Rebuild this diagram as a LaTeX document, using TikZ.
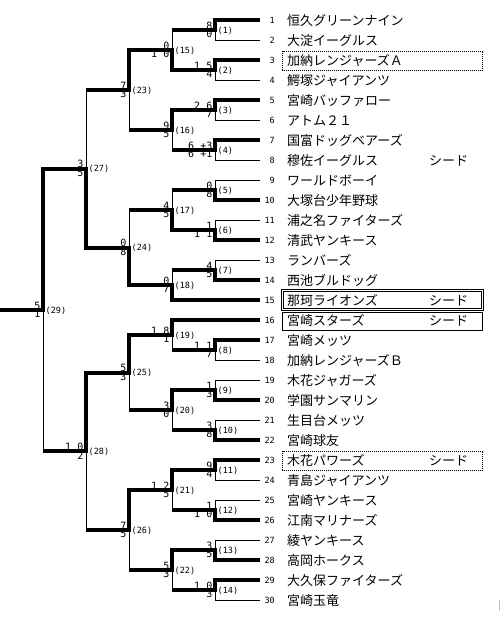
\documentclass[tikz,border=0pt]{standalone}
\usepackage{fontspec}
\newfontfamily\jpfont{Noto Sans CJK JP}
\newfontfamily\scfont{DejaVu Sans Mono}
\newcommand\fw[2]{\draw[win] (#1) -- (#1 -| #2) -- (#2);}
\newcommand\fl[2]{\draw[lose] (#1) -- (#1 -| #2) -- (#2);}
\newcommand\fh[2]{\draw[win] (#1) -- (#1 -| #2); \draw[lose] (#1 -| #2) -- (#2);}
\newcommand\mt[3]{%
  \fill (m#1) ++(-2,-2) rectangle ++(4,4);
  \node[scu] (su#1) at (m#1) {#2};
  \node[scl] (sl#1) at (m#1) {#3};
  \node[lab] (lb#1) at (m#1) {(#1)};}
\begin{document}
\begin{tikzpicture}[x=1pt,y=-1pt,
  win/.style={line width=4pt,line join=miter},
  lose/.style={line width=1pt},
  scu/.style={anchor=base east,inner sep=0pt,xshift=-2.5pt,yshift=0.8pt,font=\scfont\fontsize{10}{10}\selectfont},
  scl/.style={anchor=base east,inner sep=0pt,xshift=-2.5pt,yshift=-7.8pt,font=\scfont\fontsize{10}{10}\selectfont},
  lab/.style={anchor=west,inner sep=0pt,xshift=2.5pt,yshift=-0.5pt,font=\scfont\fontsize{8.5}{8.5}\selectfont},
  num/.style={anchor=base east,inner sep=0pt,yshift=-3pt,font=\scfont\fontsize{8.5}{8.5}\selectfont},
  tname/.style={anchor=base west,inner sep=0pt,yshift=-5pt,font=\jpfont\fontsize{13}{13}\selectfont},
  dotbox/.style={line width=0.8pt,dash pattern=on 1pt off 1pt},
]
\useasboundingbox (0,0) rectangle (500,625);

% boxes
\draw[dotbox] (282.5,51) rectangle (482.5,70);
\draw[dotbox] (282.5,451) rectangle (482.5,470);
\draw[lose] (281.5,289.5) rectangle (483.5,310.5);
\draw[lose] (283.5,291.5) rectangle (481.5,308.5);
\draw[lose] (282.5,312) rectangle (482.5,330.5);

% teams
\foreach \i/\n in {1/恒久グリーンナイン,2/大淀イーグルス,3/加納レンジャーズＡ,4/鰐塚ジャイアンツ,
  5/宮崎バッファロー,6/アトム２１,7/国富ドッグベアーズ,8/穆佐イーグルス,9/ワールドボーイ,
  10/大塚台少年野球,11/浦之名ファイターズ,12/清武ヤンキース,13/ランバーズ,14/西池ブルドッグ,
  15/那珂ライオンズ,16/宮崎スターズ,17/宮崎メッツ,18/加納レンジャーズＢ,19/木花ジャガーズ,
  20/学園サンマリン,21/生目台メッツ,22/宮崎球友,23/木花パワーズ,24/青島ジャイアンツ,
  25/宮崎ヤンキース,26/江南マリナーズ,27/綾ヤンキース,28/高岡ホークス,29/大久保ファイターズ,
  30/宮崎玉竜}{
  \coordinate (t\i) at (260,20*\i);
  \node[num] (n\i) at (275,20*\i) {\i};
  \node[tname] (nm\i) at (287,20*\i) {\n};
}
\foreach \i in {8,15,16,23}{
  \node[tname] (sd\i) at (429,20*\i) {シード};
}

% junctions
\coordinate (m1) at (215,30);
\coordinate (m2) at (215,70);
\coordinate (m3) at (215,110);
\coordinate (m4) at (215,150);
\coordinate (m5) at (215,190);
\coordinate (m6) at (215,230);
\coordinate (m7) at (215,270);
\coordinate (m8) at (215,350);
\coordinate (m9) at (215,390);
\coordinate (m10) at (215,430);
\coordinate (m11) at (215,470);
\coordinate (m12) at (215,510);
\coordinate (m13) at (215,550);
\coordinate (m14) at (215,590);
\coordinate (m15) at (172,50);
\coordinate (m16) at (172,130);
\coordinate (m17) at (172,210);
\coordinate (m18) at (172,285);
\coordinate (m19) at (172,335);
\coordinate (m20) at (172,410);
\coordinate (m21) at (172,490);
\coordinate (m22) at (172,570);
\coordinate (m23) at (129,90);
\coordinate (m24) at (129,247.5);
\coordinate (m25) at (129,372.5);
\coordinate (m26) at (129,530);
\coordinate (m27) at (86,168.75);
\coordinate (m28) at (86,451.25);
\coordinate (m29) at (43,310);
\coordinate (champ) at (0,310);

% round 1
\fw{t1}{m1} \fl{t2}{m1}
\fw{t3}{m2} \fl{t4}{m2}
\fw{t5}{m3} \fl{t6}{m3}
\fw{t7}{m4} \fl{t8}{m4}
\fl{t9}{m5} \fw{t10}{m5}
\fl{t11}{m6} \fw{t12}{m6}
\fl{t13}{m7} \fw{t14}{m7}
\fw{t17}{m8} \fl{t18}{m8}
\fl{t19}{m9} \fw{t20}{m9}
\fl{t21}{m10} \fw{t22}{m10}
\fw{t23}{m11} \fl{t24}{m11}
\fl{t25}{m12} \fw{t26}{m12}
\fl{t27}{m13} \fw{t28}{m13}
\fw{t29}{m14} \fl{t30}{m14}
% round 2
\fh{m1}{m15} \fw{m2}{m15}
\fw{m3}{m16} \fh{m4}{m16}
\fh{m5}{m17} \fw{m6}{m17}
\fh{m7}{m18} \fw{t15}{m18}
\fw{t16}{m19} \fh{m8}{m19}
\fw{m9}{m20} \fh{m10}{m20}
\fw{m11}{m21} \fh{m12}{m21}
\fw{m13}{m22} \fh{m14}{m22}
% round 3
\fw{m15}{m23} \fh{m16}{m23}
\fh{m17}{m24} \fw{m18}{m24}
\fw{m19}{m25} \fh{m20}{m25}
\fw{m21}{m26} \fh{m22}{m26}
% round 4
\fh{m23}{m27} \fw{m24}{m27}
\fw{m25}{m28} \fh{m26}{m28}
% final
\fw{m27}{m29} \fh{m28}{m29}
\draw[win] (m29) -- (champ);

% scores and labels
\mt{1}{8}{0}
\mt{2}{1 5}{4}
\mt{3}{2 6}{7}
\mt{4}{6 +3}{6 +1}
\mt{5}{0}{8}
\mt{6}{1}{1 1}
\mt{7}{4}{5}
\mt{8}{1 1}{7}
\mt{9}{1}{3}
\mt{10}{3}{8}
\mt{11}{9}{4}
\mt{12}{1}{1 0}
\mt{13}{3}{5}
\mt{14}{1 0}{3}
\mt{15}{0}{1 0}
\mt{16}{9}{5}
\mt{17}{4}{5}
\mt{18}{0}{7}
\mt{19}{1 8}{1}
\mt{20}{3}{0}
\mt{21}{1 2}{5}
\mt{22}{5}{3}
\mt{23}{7}{3}
\mt{24}{0}{8}
\mt{25}{5}{3}
\mt{26}{7}{5}
\mt{27}{3}{5}
\mt{28}{1 0}{2}
\mt{29}{5}{1}

% stray mark
\draw[gray!50,line width=1pt] (499,600) -- (499,611);
\end{tikzpicture}
\end{document}
